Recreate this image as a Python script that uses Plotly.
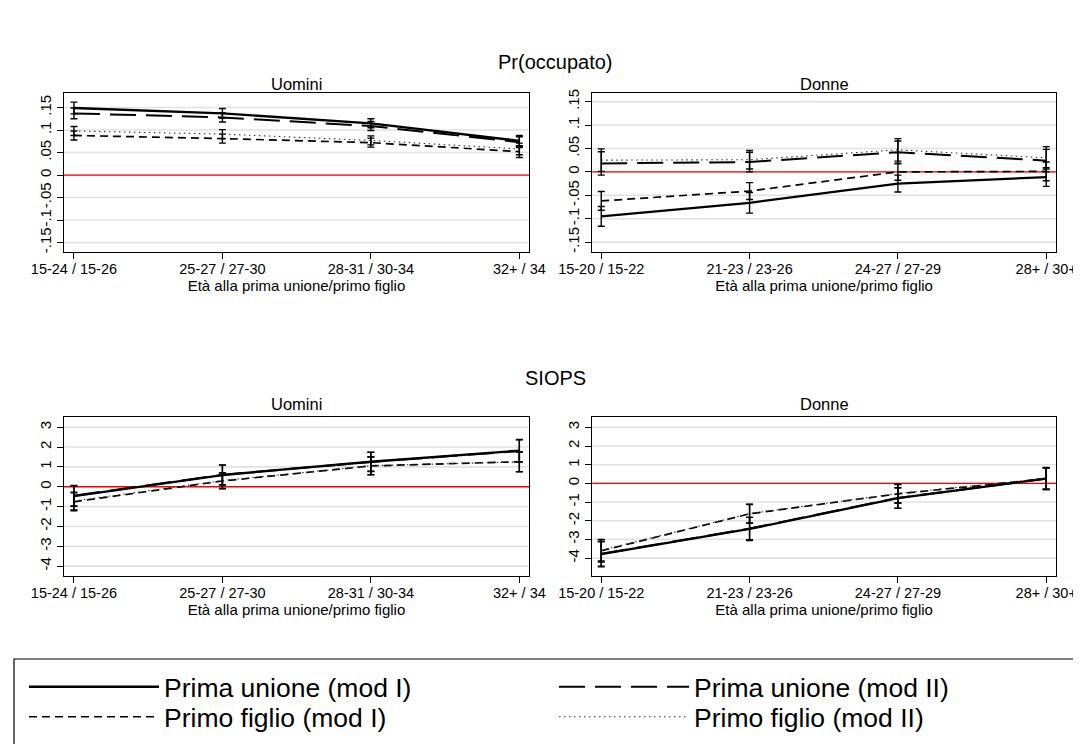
import plotly.graph_objects as go

# ---------------- data ----------------
cat_uomini = ["15-24 / 15-26", "25-27 / 27-30", "28-31 / 30-34", "32+ / 34"]
cat_donne = ["15-20 / 15-22", "21-23 / 23-26", "24-27 / 27-29", "28+ / 30+"]

series_names = ["Prima unione (mod I)", "Prima unione (mod II)",
                "Primo figlio (mod I)", "Primo figlio (mod II)"]

# Pr(occupato) - Uomini
occ_u_pu1 = [0.149, 0.137, 0.115, 0.076]
occ_u_pu2 = [0.137, 0.128, 0.109, 0.073]
occ_u_pf1 = [0.088, 0.081, 0.072, 0.052]
occ_u_pf2 = [0.098, 0.091, 0.077, 0.058]
occ_u_err_pu1 = [0.013, 0.011, 0.010, 0.012]
occ_u_err_pu2 = [0.012, 0.010, 0.010, 0.012]
occ_u_err_pf1 = [0.010, 0.010, 0.010, 0.013]
occ_u_err_pf2 = [0.010, 0.010, 0.010, 0.013]

# Pr(occupato) - Donne
occ_d_pu1 = [-0.095, -0.066, -0.025, -0.011]
occ_d_pu2 = [0.018, 0.021, 0.042, 0.024]
occ_d_pf1 = [-0.062, -0.041, 0.000, 0.001]
occ_d_pf2 = [0.025, 0.026, 0.047, 0.030]
occ_d_err_pu1 = [0.021, 0.022, 0.018, 0.020]
occ_d_err_pu2 = [0.025, 0.021, 0.024, 0.024]
occ_d_err_pf1 = [0.020, 0.018, 0.018, 0.020]
occ_d_err_pf2 = [0.024, 0.020, 0.024, 0.024]

# SIOPS - Uomini
siops_u_pu1 = [-0.47, 0.59, 1.26, 1.82]
siops_u_pu2 = [-0.45, 0.60, 1.25, 1.80]
siops_u_pf1 = [-0.76, 0.29, 1.05, 1.26]
siops_u_pf2 = [-0.72, 0.31, 1.06, 1.25]
siops_u_err_pu1 = [0.52, 0.50, 0.48, 0.56]
siops_u_err_pu2 = [0.52, 0.50, 0.48, 0.56]
siops_u_err_pf1 = [0.45, 0.40, 0.45, 0.50]
siops_u_err_pf2 = [0.45, 0.40, 0.45, 0.50]

# SIOPS - Donne
siops_d_pu1 = [-3.79, -2.44, -0.79, 0.25]
siops_d_pu2 = [-3.77, -2.42, -0.78, 0.26]
siops_d_pf1 = [-3.61, -1.63, -0.56, 0.25]
siops_d_pf2 = [-3.58, -1.62, -0.54, 0.27]
siops_d_err_pu1 = [0.68, 0.62, 0.55, 0.58]
siops_d_err_pu2 = [0.66, 0.60, 0.55, 0.58]
siops_d_err_pf1 = [0.60, 0.50, 0.50, 0.58]
siops_d_err_pf2 = [0.58, 0.50, 0.50, 0.58]

occ_ticks = [-0.15, -0.1, -0.05, 0, 0.05, 0.1, 0.15]
occ_ticktext = ["-.15", "-.1", "-.05", "0", ".05", ".1", ".15"]
siops_ticks = [-4, -3, -2, -1, 0, 1, 2, 3]
siops_ticktext = ["-4", "-3", "-2", "-1", "0", "1", "2", "3"]

# ---------------- styles ----------------
styles = [
    dict(color="black", width=2.3, dash="solid"),
    dict(color="black", width=2.0, dash="26px,10px"),
    dict(color="black", width=1.7, dash="8px,5px"),
    dict(color="#333333", width=1.1, dash="1.5px,3.5px"),
]
legends = ["legend", "legend", "legend2", "legend2"]

FONT = "Liberation Sans, Arial, sans-serif"
W, H = 1081, 744
OFF = 8  # the page body adds an 8px margin; compensate so the view matches

fig = go.Figure()
x_idx = [0, 1, 2, 3]

panels = [
    ("x", "y", [occ_u_pu1, occ_u_pu2, occ_u_pf1, occ_u_pf2],
     [occ_u_err_pu1, occ_u_err_pu2, occ_u_err_pf1, occ_u_err_pf2], True, occ_ticks),
    ("x2", "y2", [occ_d_pu1, occ_d_pu2, occ_d_pf1, occ_d_pf2],
     [occ_d_err_pu1, occ_d_err_pu2, occ_d_err_pf1, occ_d_err_pf2], False, occ_ticks),
    ("x3", "y3", [siops_u_pu1, siops_u_pu2, siops_u_pf1, siops_u_pf2],
     [siops_u_err_pu1, siops_u_err_pu2, siops_u_err_pf1, siops_u_err_pf2], False, siops_ticks),
    ("x4", "y4", [siops_d_pu1, siops_d_pu2, siops_d_pf1, siops_d_pf2],
     [siops_d_err_pu1, siops_d_err_pu2, siops_d_err_pf1, siops_d_err_pf2], False, siops_ticks),
]

for xa, ya, vals, errs, show, ticks in panels:
    # light grey grid lines at the y ticks, then the red zero line
    for t in ticks:
        fig.add_shape(type="line", xref=f"{xa} domain", yref=ya, x0=0, x1=1,
                      y0=t, y1=t, line=dict(color="#e2e2e2", width=1.6),
                      layer="below")
    fig.add_shape(type="line", xref=f"{xa} domain", yref=ya, x0=0, x1=1,
                  y0=0, y1=0, line=dict(color="red", width=1.3),
                  layer="below")
    for i in range(4):
        fig.add_trace(go.Scatter(
            x=x_idx, y=vals[i], xaxis=xa, yaxis=ya,
            mode="lines", name=series_names[i], legendgroup=series_names[i],
            legend=legends[i], showlegend=show, line=styles[i],
            error_y=dict(type="data", array=errs[i], visible=True,
                         color="black", thickness=1.4, width=3.5),
            hoverinfo="skip",
        ))

def fx(p):
    return (p - OFF) / W

def fy(p):
    return 1 - (p - OFF) / H

def px_x(a, b):
    return [fx(a), fx(b)]

def px_y(top, bottom):
    return [fy(bottom), fy(top)]

common_x = dict(showgrid=False, zeroline=False, showline=True, mirror=True,
                linecolor="black", linewidth=1.2, ticks="outside", ticklen=6,
                tickwidth=1, tickcolor="black", tickvals=x_idx, automargin=False,
                ticklabelstandoff=-3,
                tickfont=dict(family=FONT, size=14.5, color="black"),
                title=dict(text="Età alla prima unione/primo figlio",
                           font=dict(family=FONT, size=15, color="black"),
                           standoff=0))
common_y = dict(showgrid=False, zeroline=False, automargin=False,
                showline=True, mirror=True, linecolor="black", linewidth=1.2,
                ticks="outside", ticklen=6, tickwidth=1, tickcolor="black",
                tickangle=-90,
                tickfont=dict(family=FONT, size=15, color="black"))

XL = px_x(63.7, 529.3)
XR = px_x(592.2, 1056.0)
YT = px_y(92.7, 252)
YB = px_y(417.3, 576)

legend_common = dict(orientation="h", xanchor="left", yanchor="middle",
                     borderwidth=0, bgcolor="rgba(0,0,0,0)", entrywidth=385,
                     entrywidthmode="pixels", itemwidth=130,
                     font=dict(family=FONT, size=26.5, color="black"))

fig.update_layout(
    width=W, height=H, margin=dict(l=0, r=0, t=0, b=0, autoexpand=False),
    paper_bgcolor="white", plot_bgcolor="white",
    font=dict(family=FONT, color="black"),
    xaxis=dict(common_x, domain=XL, range=[-0.069, 3.067],
               ticktext=cat_uomini, anchor="y"),
    yaxis=dict(common_y, domain=YT, range=[-0.171, 0.183],
               tickvals=occ_ticks, ticktext=occ_ticktext, anchor="x"),
    xaxis2=dict(common_x, domain=XR, range=[-0.061, 3.066],
                ticktext=cat_donne, anchor="y2"),
    yaxis2=dict(common_y, domain=YT, range=[-0.171, 0.169],
                tickvals=occ_ticks, ticktext=occ_ticktext, anchor="x2"),
    xaxis3=dict(common_x, domain=XL, range=[-0.069, 3.067],
                ticktext=cat_uomini, anchor="y3"),
    yaxis3=dict(common_y, domain=YB, range=[-4.5, 3.5],
                tickvals=siops_ticks, ticktext=siops_ticktext, anchor="x3"),
    xaxis4=dict(common_x, domain=XR, range=[-0.061, 3.066],
                ticktext=cat_donne, anchor="y4"),
    yaxis4=dict(common_y, domain=YB, range=[-4.96, 3.54],
                tickvals=siops_ticks, ticktext=siops_ticktext, anchor="x4"),
    legend=dict(legend_common, x=fx(24), y=fy(687)),
    legend2=dict(legend_common, x=fx(24), y=fy(717)),
    showlegend=True,
)

# legend frame
fig.add_shape(type="rect", xref="paper", yref="paper",
              x0=fx(14), x1=fx(1076), y0=-0.05, y1=fy(659),
              line=dict(color="black", width=1.2), fillcolor="rgba(0,0,0,0)",
              layer="below")

def ann(text, xp, yp, size):
    fig.add_annotation(text=text, x=fx(xp), y=fy(yp), xref="paper",
                       yref="paper", showarrow=False, xanchor="center",
                       yanchor="middle",
                       font=dict(family=FONT, size=size, color="black"))

ann("Pr(occupato)", 555, 62, 20)
ann("Uomini", 296.5, 84, 16.5)
ann("Donne", 824, 84, 16.5)
ann("SIOPS", 555, 378, 20)
ann("Uomini", 296.5, 404, 16.5)
ann("Donne", 824, 404, 16.5)

fig.write_html("out.html")
